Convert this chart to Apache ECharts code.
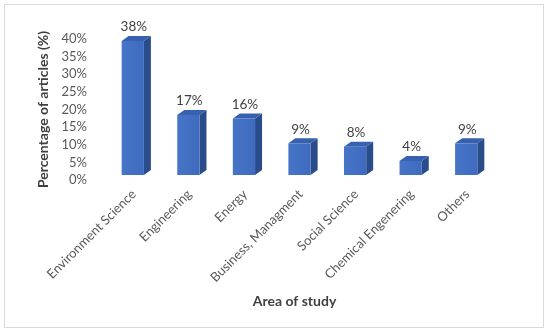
<!DOCTYPE html>
<html>
<head>
<meta charset="utf-8">
<script src="https://cdn.jsdelivr.net/npm/echarts@6/dist/echarts.min.js"></script>
<style>
html,body{margin:0;padding:0;background:#fff;}
#chart{width:550px;height:332px;}
</style>
</head>
<body>
<div id="chart"></div>
<script>
var categories = ['Environment Science', 'Engineering', 'Energy', 'Business, Managment', 'Social Science', 'Chemical Engenering', 'Others'];
var values = [38, 17, 16, 9, 8, 4, 9];
var yTicks = [0, 5, 10, 15, 20, 25, 30, 35, 40];

var FONT = 'Lato';
var chart = echarts.init(document.getElementById('chart'), null, {renderer: 'canvas'});

var DX = 7, DY = 5, LIFT = 5;

function renderItem(params, api) {
  var idx = api.value(0), val = api.value(1);
  var base = api.coord([idx, 0]);
  var top = api.coord([idx, val]);
  var w = api.size([1, 0])[0] * 0.4;
  var x0 = base[0] - w / 2 - 1, x1 = x0 + w;
  var yb = base[1] - LIFT, yt = top[1] - LIFT;
  return {
    type: 'group',
    children: [
      {type: 'polygon', shape: {points: [[x1, yt], [x1 + DX, yt - DY], [x1 + DX, yb - DY], [x1, yb]]},
       style: {fill: '#2B4C8A'}},
      {type: 'polygon', shape: {points: [[x0, yt], [x1, yt], [x1 + DX, yt - DY], [x0 + DX, yt - DY]]},
       style: {fill: '#3761AF'}},
      {type: 'rect', shape: {x: x0, y: yt, width: w, height: yb - yt},
       style: {fill: {type: 'linear', x: 0, y: 0, x2: 1, y2: 0,
         colorStops: [{offset: 0, color: '#4674C6'}, {offset: 1, color: '#3E6BBD'}]}}},
      {type: 'text', style: {text: val + '%', x: x0 + w / 2 + 1, y: yt - DY - 9,
        align: 'center', verticalAlign: 'middle', fill: '#404040',
        font: '13.5px ' + FONT}}
    ]
  };
}

chart.setOption({
  backgroundColor: '#ffffff',
  animation: false,
  graphic: [{type: 'rect', shape: {x: 4.5, y: 4.5, width: 539, height: 323},
    style: {fill: 'none', stroke: '#d9d9d9', lineWidth: 1}, z: -1}],
  grid: {left: 106, right: 55, top: 39, bottom: 152, containLabel: false},
  xAxis: {
    type: 'category', data: categories,
    axisLine: {show: false}, axisTick: {show: false},
    axisLabel: {rotate: 45, interval: 0, margin: 12, color: '#595959', fontSize: 13, fontFamily: FONT},
    name: 'Area of study', nameLocation: 'middle', nameGap: 114,
    nameTextStyle: {fontSize: 14, fontWeight: 'bold', color: '#404040', fontFamily: FONT, padding: [0, 12, 0, 0]}
  },
  yAxis: {
    type: 'value', min: yTicks[0], max: yTicks[yTicks.length - 1], interval: yTicks[1] - yTicks[0],
    splitLine: {show: false}, axisLine: {show: false}, axisTick: {show: false},
    axisLabel: {formatter: '{value}%', color: '#595959', fontSize: 13, fontFamily: FONT, margin: 19},
    name: 'Percentage of articles (%)', nameLocation: 'middle', nameGap: 42,
    nameTextStyle: {fontSize: 14, fontWeight: 'bold', color: '#404040', fontFamily: FONT, padding: [0, 0, 0, 0]}
  },
  series: [{
    type: 'custom', renderItem: renderItem,
    data: values.map(function (v, i) { return [i, v]; })
  }]
});
</script>
</body>
</html>
